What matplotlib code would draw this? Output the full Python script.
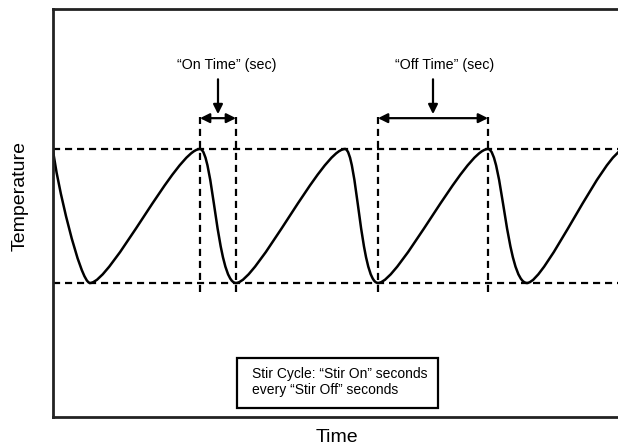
import matplotlib.pyplot as plt
from matplotlib.path import Path
from matplotlib.patches import PathPatch, Rectangle

plt.rcParams['font.family'] = ['Liberation Sans', 'DejaVu Sans']

# schematic stir cycle (arbitrary units)
t_high = 1.0
t_low = 0.0
peak_times = [0, 147, 292, 435, 572]
trough_times = [37, 183, 325, 474]
on_time = [147, 183]
off_time = [325, 435]
labels = ['“On Time” (sec)', '“Off Time” (sec)']
label_pos = [173.5, 392]


def build_curve():
    verts = [(peak_times[0], t_high)]
    codes = [Path.MOVETO]
    for i, m in enumerate(trough_times):
        p = peak_times[i]
        d = m - p
        if i == 0:
            c1, c2 = (p + 0.08 * d, 0.77), (p + 0.73 * d, t_low)
        else:
            c1, c2 = (p + 0.36 * d, t_high), (p + 0.47 * d, t_low)
        verts += [c1, c2, (m, t_low)]
        codes += [Path.CURVE4] * 3
        p2 = peak_times[i + 1]
        d2 = p2 - m
        verts += [(m + 0.19 * d2, t_low), (m + 0.79 * d2, t_high), (p2, t_high)]
        codes += [Path.CURVE4] * 3
    return Path(verts, codes)


def main():
    fig = plt.figure(figsize=(6.18, 4.45), dpi=100)
    ax = fig.add_axes([53 / 618, 0.0629, 565 / 618, 0.917])
    ax.set_xlim(0, 565)
    ax.set_ylim(-1.0, 2.045)

    dash = (3.2, 2.2)
    ax.axhline(t_high, color='black', lw=1.6, dashes=dash)
    ax.axhline(t_low, color='black', lw=1.6, dashes=dash)
    for t in on_time + off_time:
        ax.plot([t, t], [-0.067, 1.24], color='black', lw=1.6, dashes=dash)

    curve = PathPatch(build_curve(), facecolor='none', edgecolor='black', lw=1.8)
    ax.add_patch(curve)

    # interval arrows
    for span, label, lx in zip([on_time, off_time], labels, label_pos):
        ax.annotate('', xy=(span[1], 1.23), xytext=(span[0], 1.23),
                    arrowprops=dict(arrowstyle='<|-|>', color='black', lw=1.6,
                                    mutation_scale=14, shrinkA=0, shrinkB=0))
        mid = (span[0] + span[1]) / 2
        ax.annotate('', xy=(mid, 1.26), xytext=(mid, 1.52),
                    arrowprops=dict(arrowstyle='-|>', color='black', lw=1.6,
                                    mutation_scale=14, shrinkA=0, shrinkB=0))
        ax.text(lx, 1.63, label, ha='center', va='center', fontsize=10.3)

    ax.add_patch(Rectangle((184, -0.933), 201, 0.373, facecolor='white',
                           edgecolor='black', lw=1.6))
    ax.text(199, -0.74, 'Stir Cycle: “Stir On” seconds\nevery “Stir Off” seconds',
            ha='left', va='center', fontsize=10, linespacing=1.15)

    ax.set_xticks([])
    ax.set_yticks([])
    for s in ['left', 'bottom', 'top']:
        ax.spines[s].set_linewidth(2)
        ax.spines[s].set_color('#222222')
    ax.spines['right'].set_visible(False)

    fig.text(20 / 618, 1 - 196 / 445, 'Temperature', rotation=90,
             ha='center', va='center', fontsize=14)
    fig.text(337 / 618, 1 - 438 / 445, 'Time', ha='center', va='center', fontsize=14)

    fig.savefig('out.png', dpi=100)


if __name__ == "__main__":
    main()
